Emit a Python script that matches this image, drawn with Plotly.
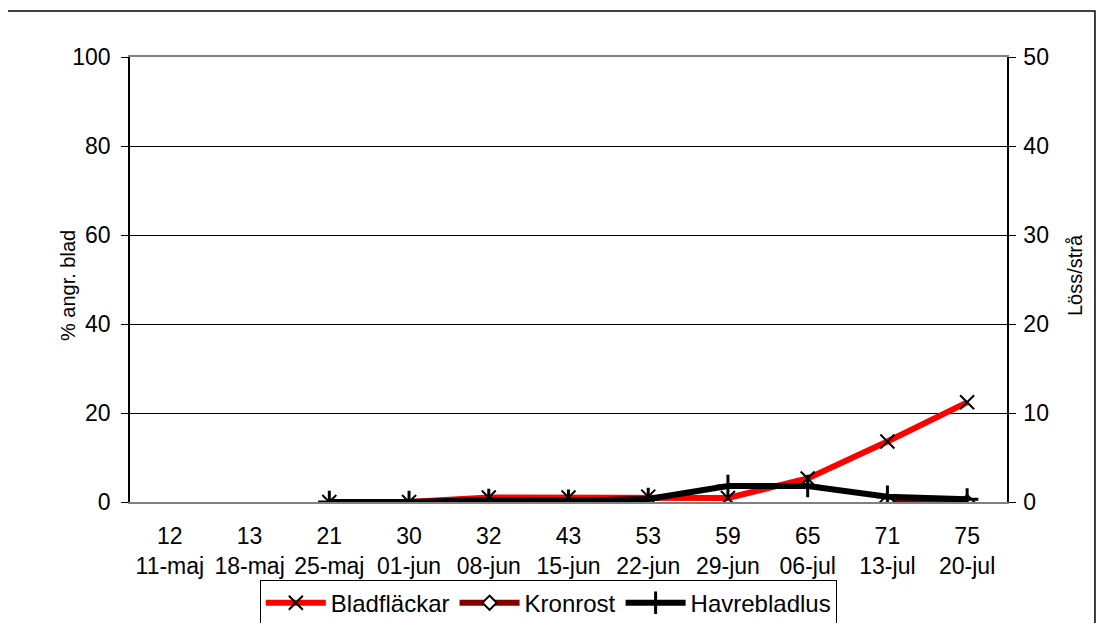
import plotly.graph_objects as go

categories = ["12<br>11-maj", "13<br>18-maj", "21<br>25-maj", "30<br>01-jun", "32<br>08-jun",
              "43<br>15-jun", "53<br>22-jun", "59<br>29-jun", "65<br>06-jul", "71<br>13-jul", "75<br>20-jul"]
bladflackar = [None, None, 0, 0, 1.0, 1.0, 1.2, 0.9, 5.3, 13.6, 22.4]
kronrost = [None, None, None, None, None, None, None, None, None, 0, 0]
havrebladlus = [None, None, 0, 0, 0.22, 0.15, 0.33, 1.8, 1.8, 0.6, 0.3]

left_ticks = [0, 20, 40, 60, 80, 100]
right_ticks = [0, 10, 20, 30, 40, 50]

FONT = "Liberation Sans, Arial, sans-serif"

fig = go.Figure()
fig.add_trace(go.Scatter(
    x=categories, y=bladflackar, name="Bladfläckar", mode="lines+markers",
    line=dict(color="#ff0000", width=6),
    marker=dict(symbol="x-thin-open", size=14, color="black", line=dict(color="black", width=2)),
))
fig.add_trace(go.Scatter(
    x=categories, y=kronrost, name="Kronrost", mode="lines+markers",
    line=dict(color="#800000", width=6),
    marker=dict(symbol="diamond", size=11, color="white", line=dict(color="black", width=2)),
))
fig.add_trace(go.Scatter(
    x=categories, y=havrebladlus, name="Havrebladlus", mode="lines+markers", yaxis="y2",
    line=dict(color="black", width=6),
    marker=dict(symbol="cross-thin-open", size=16, color="black", line=dict(color="black", width=3)),
))

# The page body adds an 8px offset, so the figure is 8px smaller and margins are shifted.
fig.update_layout(
    width=1096, height=615,
    margin=dict(l=122, r=97, t=49, b=121, autoexpand=False),
    paper_bgcolor="white", plot_bgcolor="white",
    font=dict(family=FONT, size=23, color="black"),
    showlegend=True,
    legend=dict(orientation="h", x=0.477, xanchor="center", y=-0.28, yanchor="bottom",
                bordercolor="black", borderwidth=1, bgcolor="rgba(0,0,0,0)",
                font=dict(size=24, color="black"), itemwidth=60, tracegroupgap=0),
    xaxis=dict(type="category", showline=True, mirror=True, linecolor="#808080", linewidth=2,
               showgrid=False, ticks="", tickfont=dict(size=23), range=[-0.5, 10.5],
               ticklabelstandoff=12),
    yaxis=dict(range=[0, 100], tickvals=left_ticks, showgrid=True, gridcolor="black", gridwidth=1,
               showline=True, linecolor="black", linewidth=1.5, ticks="outside", ticklen=7,
               tickcolor="black", zeroline=False, tickfont=dict(size=23), ticklabelstandoff=6),
    yaxis2=dict(range=[0, 50], tickvals=right_ticks, overlaying="y", side="right", showgrid=False,
                showline=True, linecolor="black", linewidth=1.5, ticks="outside", ticklen=7,
                tickcolor="black", zeroline=False, tickfont=dict(size=23), ticklabelstandoff=3),
    annotations=[
        dict(text="% angr. blad", xref="paper", yref="paper", x=-0.0707, y=0.4876,
             textangle=-90, showarrow=False, font=dict(size=20), xanchor="center", yanchor="middle"),
        dict(text="Löss/strå", xref="paper", yref="paper", x=1.0775, y=0.51,
             textangle=-90, showarrow=False, font=dict(size=20), xanchor="center", yanchor="middle"),
    ],
    shapes=[dict(type="rect", xref="paper", yref="paper", x0=-0.1403, x1=1.1003, y0=-0.30, y1=1.1034,
                 line=dict(color="black", width=1.5), fillcolor="rgba(0,0,0,0)", layer="above")],
)

fig.write_html("out.html")
